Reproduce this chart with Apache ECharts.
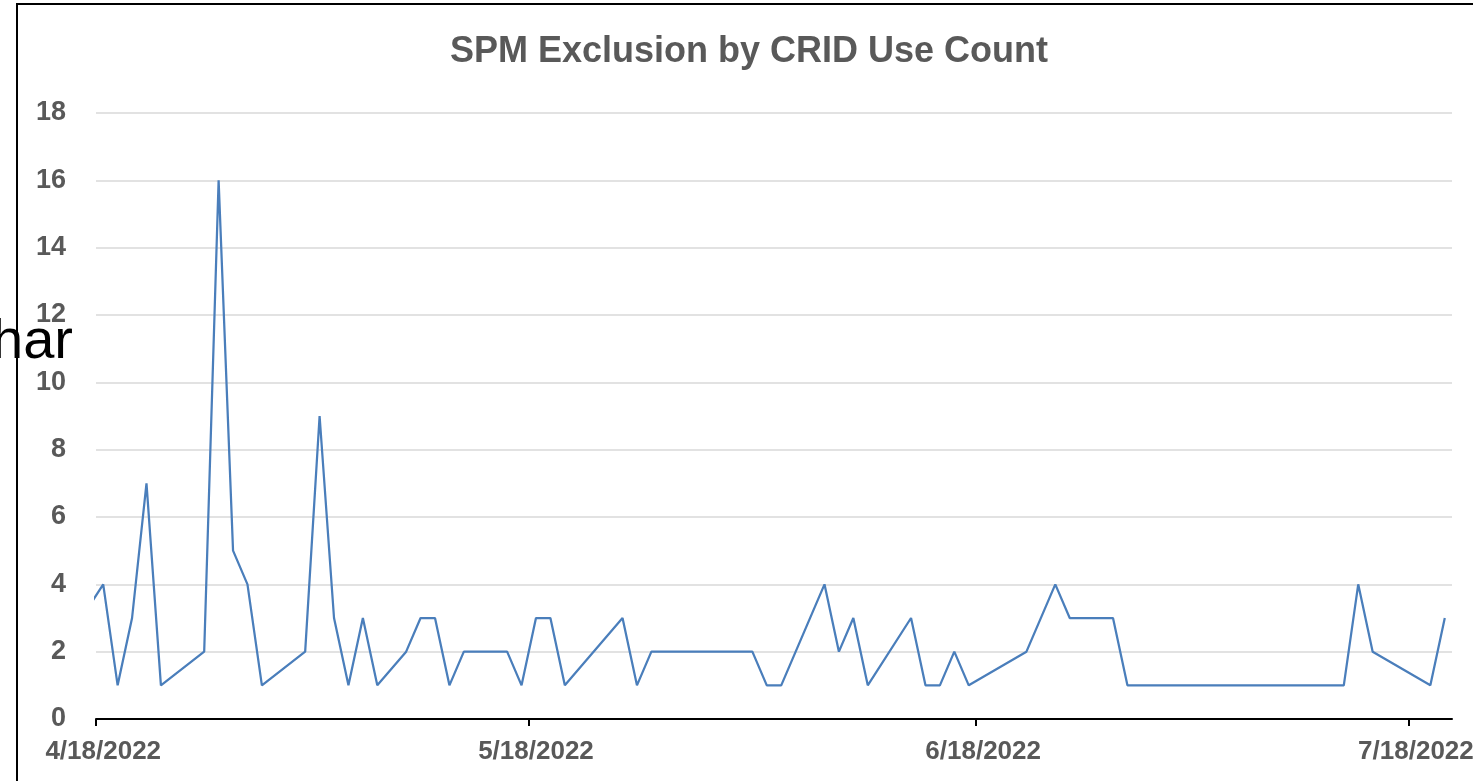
<!DOCTYPE html>
<html>
<head>
<meta charset="utf-8">
<script src="https://cdn.jsdelivr.net/npm/echarts@6/dist/echarts.min.js"></script>
<style>
html,body{margin:0;padding:0;background:#fff;}
#c{width:1473px;height:781px;}
</style>
</head>
<body>
<div id="c"></div>
<script>
// ---- data ----
const titleText = 'SPM Exclusion by CRID Use Count';
const dates = [
  '2022-04-15','2022-04-18','2022-04-19','2022-04-20','2022-04-21','2022-04-22',
  '2022-04-25','2022-04-26','2022-04-27','2022-04-28','2022-04-29',
  '2022-05-02','2022-05-03','2022-05-04','2022-05-05','2022-05-06','2022-05-07',
  '2022-05-09','2022-05-10','2022-05-11','2022-05-12','2022-05-13',
  '2022-05-16','2022-05-17','2022-05-18','2022-05-19','2022-05-20',
  '2022-05-24','2022-05-25','2022-05-26',
  '2022-06-02','2022-06-03','2022-06-04',
  '2022-06-07','2022-06-08','2022-06-09','2022-06-10',
  '2022-06-13','2022-06-14','2022-06-15','2022-06-16','2022-06-17',
  '2022-06-21','2022-06-23','2022-06-24',
  '2022-06-27','2022-06-28',
  '2022-07-13','2022-07-14','2022-07-15',
  '2022-07-19','2022-07-20'
];
const values = [
  2,4,1,3,7,1,
  2,16,5,4,1,
  2,9,3,1,3,1,
  2,3,3,1,2,
  2,1,3,3,1,
  3,1,2,
  2,1,1,
  4,2,3,1,
  3,1,1,2,1,
  2,4,3,
  3,1,
  1,4,2,
  1,3
];
const tickDates = ['2022-04-18','2022-05-18','2022-06-18','2022-07-18'];
const axisStart = '2022-04-18';
const axisEnd = '2022-07-21';
const yTicks = [0,2,4,6,8,10,12,14,16,18];

// ---- build ----
const toMs = (d, h) => +new Date(d + 'T' + (h < 10 ? '0' + h : h) + ':00:00');
const seriesData = dates.map((d, i) => [toMs(d, 12), values[i]]);
const tickMs = tickDates.map(d => toMs(d, 0));
const labelMs = tickDates.map(d => toMs(d, 12));
const fmt = v => { const t = new Date(v); return (t.getMonth() + 1) + '/' + t.getDate() + '/' + t.getFullYear(); };

const FONT = '"Liberation Sans", Arial, sans-serif';
const chart = echarts.init(document.getElementById('c'), null, {renderer: 'canvas'});
chart.setOption({
  animation: false,
  backgroundColor: '#ffffff',
  grid: {left: 96, right: 21, top: 113, bottom: 62, containLabel: false, outerBoundsMode: 'none'},
  xAxis: {
    type: 'value',
    min: toMs(axisStart, 0),
    max: toMs(axisEnd, 0),
    axisLine: {show: true, lineStyle: {color: '#000000', width: 2}},
    axisTick: {show: true, length: 7, lineStyle: {color: '#000000', width: 2}, customValues: tickMs},
    axisLabel: {
      customValues: labelMs,
      formatter: fmt,
      margin: 20,
      color: '#595959',
      fontSize: 26,
      fontWeight: 'bold',
      fontFamily: FONT,
      hideOverlap: false
    },
    splitLine: {show: false}
  },
  yAxis: {
    type: 'value',
    min: yTicks[0],
    max: yTicks[yTicks.length - 1],
    interval: yTicks[1] - yTicks[0],
    axisLine: {show: false},
    axisTick: {show: false},
    axisLabel: {margin: 30, color: '#595959', fontSize: 27, fontWeight: 'bold', fontFamily: FONT},
    splitLine: {show: true, lineStyle: {color: '#d9d9d9', width: 1.5}}
  },
  series: [{
    type: 'line',
    data: seriesData,
    showSymbol: false,
    symbol: 'none',
    clip: true,
    lineStyle: {color: '#4a7ebb', width: 2.25},
    itemStyle: {color: '#4a7ebb'}
  }],
  graphic: [
    {type: 'rect', shape: {x: 17, y: 4, width: 1600, height: 900}, style: {fill: null, stroke: '#000000', lineWidth: 2}, silent: true, z: 100},
    {type: 'text', x: 749, y: 52, style: {text: titleText, textAlign: 'center', textVerticalAlign: 'middle', fill: '#595959', font: 'bold 36px ' + FONT}, z: 100},
    {type: 'text', x: 73, y: 343, style: {text: 'har', textAlign: 'right', textVerticalAlign: 'middle', fill: '#000000', font: '56px ' + FONT}, z: 101}
  ]
});
</script>
</body>
</html>
